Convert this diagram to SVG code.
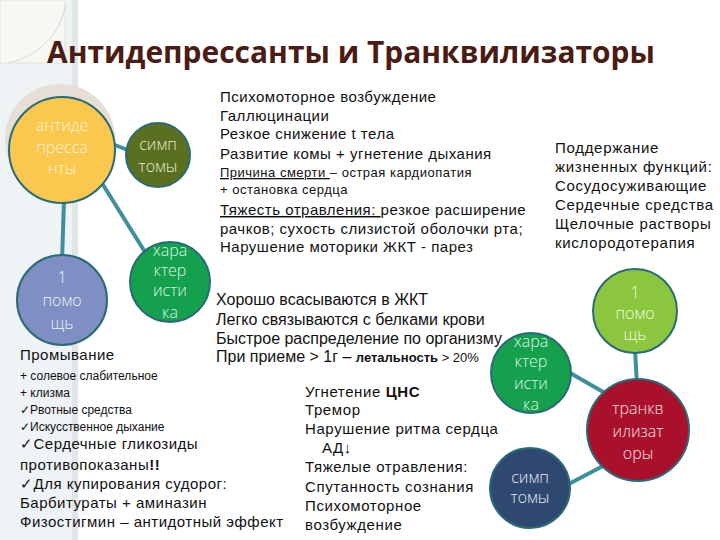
<svg xmlns="http://www.w3.org/2000/svg" width="720" height="540" viewBox="0 0 720 540">
<style>
.t{font-family:"Liberation Sans",Arial,sans-serif;font-size:15px;fill:#111;letter-spacing:0.5px}
.s{font-size:13px}
.xs{font-size:12px;letter-spacing:0}
.r{letter-spacing:0.7px}
.k{font-size:16px;letter-spacing:0}
.m{letter-spacing:0.6px}
.c{font-family:"Open Sans","Liberation Sans",sans-serif;font-size:16px;font-weight:300;text-anchor:middle}
.conn{stroke:#3f8f9c;stroke-width:4;fill:none;stroke-linecap:round}
.node{stroke:#2a6b78;stroke-width:2}
</style>
<rect width="720" height="540" fill="#ffffff"/>
<rect x="0" y="0" width="78" height="540" fill="#eef3f5"/>
<rect x="72" y="0" width="6" height="540" fill="#e0e5e6"/>
<rect x="0" y="0" width="65" height="63" fill="#f7f8f4" stroke="#e8e3d4" stroke-width="1"/>
<path d="M8,63 A72,72 0 0 0 66,3" fill="none" stroke="#ddd8c8" stroke-width="1"/>
<circle cx="60" cy="139" r="55" fill="#e5dfd5"/>
<text x="47" y="63" font-family="'Open Sans','Liberation Sans',sans-serif" font-weight="bold" font-size="31" fill="#4a1c14" textLength="608" lengthAdjust="spacingAndGlyphs">Антидепрессанты и Транквилизаторы</text>
<g id="connectors">
<line class="conn" x1="110" y1="143" x2="135" y2="153"/>
<line class="conn" x1="64" y1="200" x2="62" y2="262"/>
<line class="conn" x1="100" y1="180" x2="150" y2="260"/>
<line class="conn" x1="635" y1="350" x2="637" y2="385"/>
<line class="conn" x1="565" y1="370" x2="605" y2="393"/>
<line class="conn" x1="565" y1="486" x2="603" y2="466"/>
</g>
<g id="n-antidep">
<circle class="node" cx="62" cy="150" r="53" fill="#fac74f"/>
<text class="c" fill="#fff4d0" x="62" y="131">антиде</text>
<text class="c" fill="#fff4d0" x="62" y="153">пресса</text>
<text class="c" fill="#fff4d0" x="62" y="174">нты</text>
</g>
<g id="n-symp1">
<circle class="node" cx="158" cy="155" r="32" fill="#5b6f20"/>
<text class="c" fill="#e2e8d2" x="158" y="150">симп</text>
<text class="c" fill="#e2e8d2" x="158" y="172">томы</text>
</g>
<g id="n-char1">
<circle class="node" cx="170" cy="282" r="40" fill="#15a04d"/>
<text class="c" fill="#dff3e4" x="170" y="256">хара</text>
<text class="c" fill="#dff3e4" x="170" y="276">ктер</text>
<text class="c" fill="#dff3e4" x="170" y="296">исти</text>
<text class="c" fill="#dff3e4" x="170" y="318">ка</text>
</g>
<g id="n-help1">
<circle class="node" cx="62" cy="300" r="45" fill="#7f8fc4"/>
<text class="c" fill="#eef0f8" x="62" y="283">1</text>
<text class="c" fill="#eef0f8" x="62" y="306">помо</text>
<text class="c" fill="#eef0f8" x="62" y="329">щь</text>
</g>
<g id="n-help2">
<circle class="node" cx="635" cy="311" r="42" fill="#8cc63f"/>
<text class="c" fill="#f2f8e6" x="635" y="298">1</text>
<text class="c" fill="#f2f8e6" x="635" y="319">помо</text>
<text class="c" fill="#f2f8e6" x="635" y="340">щь</text>
</g>
<g id="n-char2">
<circle class="node" cx="531" cy="373" r="40" fill="#15a04d"/>
<text class="c" fill="#dff3e4" x="531" y="347">хара</text>
<text class="c" fill="#dff3e4" x="531" y="367">ктер</text>
<text class="c" fill="#dff3e4" x="531" y="389">исти</text>
<text class="c" fill="#dff3e4" x="531" y="410">ка</text>
</g>
<g id="n-tranq">
<circle class="node" cx="638" cy="430" r="51" fill="#a9102c"/>
<text class="c" fill="#f8e0e4" x="638" y="414">транкв</text>
<text class="c" fill="#f8e0e4" x="638" y="437">илизат</text>
<text class="c" fill="#f8e0e4" x="638" y="459">оры</text>
</g>
<g id="n-symp2">
<circle class="node" cx="530" cy="488" r="40" fill="#2f4870"/>
<text class="c" fill="#e4e9f2" x="530" y="483">симп</text>
<text class="c" fill="#e4e9f2" x="530" y="503">томы</text>
</g>
<g id="txt-symptoms1">
<text class="t" x="220" y="102">Психомоторное возбуждение</text>
<text class="t" x="220" y="121">Галлюцинации</text>
<text class="t" x="220" y="139">Резкое снижение t тела</text>
<text class="t" x="220" y="159">Развитие комы + угнетение дыхания</text>
<text class="t s" x="220" y="177"><tspan text-decoration="underline">Причина смерти </tspan>– острая кардиопатия</text>
<text class="t s" x="220" y="194">+ остановка сердца</text>
<text class="t" x="220" y="215"><tspan text-decoration="underline">Тяжесть отравления: </tspan>резкое расширение</text>
<text class="t" x="220" y="234">рачков; сухость слизистой оболочки рта;</text>
<text class="t" x="220" y="252">Нарушение моторики ЖКТ - парез</text>
</g>
<g id="txt-help2">
<text class="t r" x="555" y="153">Поддержание</text>
<text class="t r" x="555" y="172">жизненных функций:</text>
<text class="t r" x="555" y="191">Сосудосуживающие</text>
<text class="t r" x="555" y="210">Сердечные средства</text>
<text class="t r" x="555" y="229">Щелочные растворы</text>
<text class="t r" x="555" y="248">кислородотерапия</text>
</g>
<g id="txt-char1">
<text class="t k" x="216" y="305">Хорошо всасываются в ЖКТ</text>
<text class="t k" x="216" y="325">Легко связываются с белками крови</text>
<text class="t k" x="216" y="344">Быстрое распределение по организму</text>
<text class="t k" x="216" y="362">При приеме &gt; 1г – <tspan font-size="13" font-weight="bold">летальность</tspan><tspan font-size="13"> &gt; 20%</tspan></text>
</g>
<g id="txt-help1">
<text class="t" x="20" y="360" font-size="16" letter-spacing="0.2">Промывание</text>
<text class="t xs" x="20" y="380">+ солевое слабительное</text>
<text class="t xs" x="20" y="397">+ клизма</text>
<text class="t xs" x="20" y="414">✓Рвотные средства</text>
<text class="t xs" x="20" y="431">✓Искусственное дыхание</text>
<text class="t" x="20" y="449">✓Сердечные гликозиды</text>
<text class="t" x="20" y="470">противопоказаны<tspan font-weight="bold">!!</tspan></text>
<text class="t" x="20" y="489">✓Для купирования судорог:</text>
<text class="t" x="20" y="508">Барбитураты + аминазин</text>
<text class="t" x="20" y="527">Физостигмин – антидотный эффект</text>
</g>
<g id="txt-symptoms2">
<text class="t m" x="305" y="397">Угнетение <tspan font-weight="bold">ЦНС</tspan></text>
<text class="t m" x="305" y="415">Тремор</text>
<text class="t m" x="305" y="434">Нарушение ритма сердца</text>
<text class="t m" x="322" y="453">АД↓</text>
<text class="t m" x="305" y="472">Тяжелые отравления:</text>
<text class="t m" x="305" y="492">Спутанность сознания</text>
<text class="t m" x="305" y="511">Психомоторное</text>
<text class="t m" x="305" y="530">возбуждение</text>
</g>
</svg>
